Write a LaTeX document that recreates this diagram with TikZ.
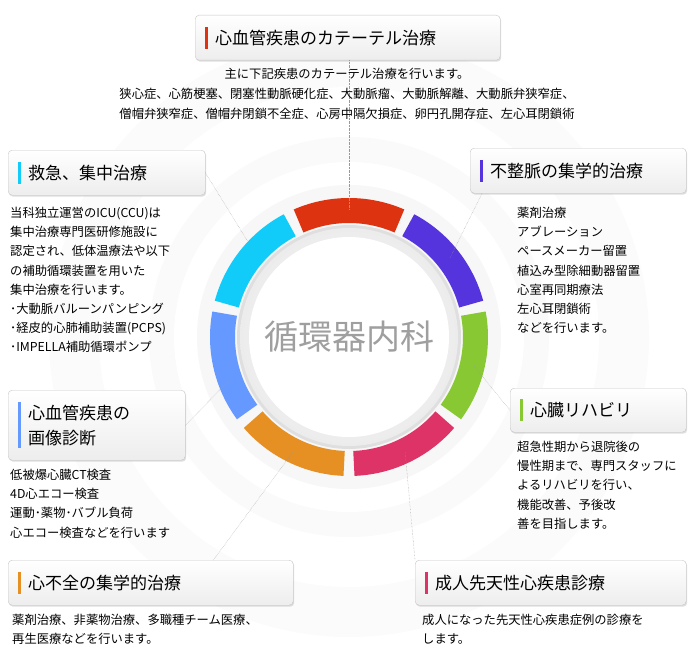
\documentclass[tikz,border=0pt]{standalone}
\usepackage{fontspec}
\setmainfont{Noto Sans CJK JP}
\usetikzlibrary{shadows}
\definecolor{cred}{HTML}{DD3311}
\definecolor{cpur}{HTML}{5533DD}
\definecolor{cgrn}{HTML}{88C833}
\definecolor{cpnk}{HTML}{DD3366}
\definecolor{corg}{HTML}{E68F22}
\definecolor{cblu}{HTML}{6699FF}
\definecolor{ccyn}{HTML}{11CCF8}
\tikzset{
 tbox/.style={draw=gray!45,rounded corners=4pt,top color=white,bottom color=gray!14,drop shadow={opacity=0.25,shadow xshift=1pt,shadow yshift=-1.5pt},anchor=north west,minimum height=45pt,align=left,inner sep=0pt},
 ttl/.style={anchor=west,font=\fontsize{17}{21}\selectfont,align=left,inner sep=0pt},
 body/.style={anchor=north west,font=\fontsize{12.3}{19.2}\selectfont,align=left,inner sep=0pt},
 conn/.style={densely dotted,gray!80,thin},
 seg/.style={line width=25pt},
}
\begin{document}
\begin{tikzpicture}[x=1pt,y=-1pt]
\useasboundingbox (0,0) rectangle (694,661);
\coordinate (c) at (349,337);
% halo
\fill[gray!3] (c) circle (300);
\fill[white] (c) circle (250);
\fill[gray!4] (c) circle (200);
\fill[white] (c) circle (175);
\fill[gray!6] (c) circle (152);
% segments (angles negated because y axis points down)
\foreach \col/\a in {cred/90,cpur/38.57,cgrn/-12.86,cpnk/-64.29,corg/-115.71,cblu/-167.14,ccyn/141.43}{
  \draw[seg,\col] ([shift={(-\a-23.5:126.5)}]c) arc[start angle=-\a-23.5,end angle=-\a+23.5,radius=126.5];
}
\fill[gray!25] (c) circle (112);
\shade[inner color=white,outer color=gray!15] (c) circle (109);
\fill[white] (c) circle (100);
\node[font=\fontsize{34}{36}\selectfont,text=gray!75] (ctr) at (c) {循環器内科};
% connector ends on ring
\coordinate (p1) at ([shift={(-90:128)}]c);
\coordinate (p2) at ([shift={(-38:128)}]c);
\coordinate (p3) at ([shift={(13:128)}]c);
\coordinate (p4) at ([shift={(64:128)}]c);
\coordinate (p5) at ([shift={(116:128)}]c);
\coordinate (p6) at ([shift={(160:128)}]c);
\coordinate (p7) at ([shift={(-138:128)}]c);
% boxes
\node[tbox,minimum width=305pt] (b1) at (195,15) {};
\node[tbox,minimum width=197pt] (b7) at (8,150) {};
\node[tbox,minimum width=216pt] (b2) at (470,148) {};
\node[tbox,minimum width=176pt,minimum height=44pt] (b3) at (510,388) {};
\node[tbox,minimum width=177pt,minimum height=70pt] (b6) at (8,390) {};
\node[tbox,minimum width=285pt] (b5) at (8,560) {};
\node[tbox,minimum width=271pt] (b4) at (415,560) {};
\draw[conn] (b1.south -| p1) -- (p1);
\draw[conn] (b2.south west) ++(12,0) coordinate (q2) -- (p2);
\draw[conn] (b3.west) -- (p3);
\coordinate (q4) at (b4.north west);
\draw[conn] (q4) -- (p4);
\coordinate (q5) at ([xshift=-80]b5.north east);
\draw[conn] (q5) -- (p5);
\draw[conn] (b6.east) -- (p6);
\draw[conn] (b7.east) -- (p7);
% titles with bars
\foreach \b/\col in {b1/cred,b7/ccyn,b2/cpur,b3/cgrn,b5/corg,b4/cpnk}{
  \fill[\col] ([shift={(10,-11)}]\b.west) rectangle ([shift={(13,11)}]\b.west);
}
\fill[cblu] ([shift={(10,-23)}]b6.west) rectangle ([shift={(13,23)}]b6.west);
\node[ttl] (t1) at ([xshift=20]b1.west) {心血管疾患のカテーテル治療};
\node[ttl] (t7) at ([xshift=20]b7.west) {救急、集中治療};
\node[ttl] (t2) at ([xshift=20]b2.west) {不整脈の集学的治療};
\node[ttl] (t3) at ([xshift=20]b3.west) {心臓リハビリ};
\node[ttl,font=\fontsize{17}{25}\selectfont] (t6) at ([xshift=20]b6.west) {心血管疾患の\\画像診断};
\node[ttl] (t5) at ([xshift=20]b5.west) {心不全の集学的治療};
\node[ttl] (t4) at ([xshift=20]b4.west) {成人先天性心疾患診療};
% bodies
\node[body,anchor=north,align=center,font=\fontsize{12.3}{20}\selectfont] (x1) at (347,68) {主に下記疾患のカテーテル治療を行います。\\狭心症、心筋梗塞、閉塞性動脈硬化症、大動脈瘤、大動脈解離、大動脈弁狭窄症、\\僧帽弁狭窄症、僧帽弁閉鎖不全症、心房中隔欠損症、卵円孔開存症、左心耳閉鎖術};
\node[body] (x7) at (10,207) {当科独立運営のICU(CCU)は\\集中治療専門医研修施設に\\認定され、低体温療法や以下\\の補助循環装置を用いた\\集中治療を行います。\\･大動脈バルーンパンピング\\･経皮的心肺補助装置(PCPS)\\･IMPELLA補助循環ポンプ};
\node[body] (x2) at (517,207) {薬剤治療\\アブレーション\\ペースメーカー留置\\植込み型除細動器留置\\心室再同期療法\\左心耳閉鎖術\\などを行います。};
\node[body] (x3) at (517,441) {超急性期から退院後の\\慢性期まで、専門スタッフに\\よるリハビリを行い、\\機能改善、予後改\\善を目指します。};
\node[body] (x6) at (10,469) {低被爆心臓CT検査\\4D心エコー検査\\運動･薬物･バブル負荷\\心エコー検査などを行います};
\node[body] (x5) at (12,614) {薬剤治療、非薬物治療、多職種チーム医療、\\再生医療などを行います。};
\node[body] (x4) at (422,614) {成人になった先天性心疾患症例の診療を\\します。};
\end{tikzpicture}
\end{document}
